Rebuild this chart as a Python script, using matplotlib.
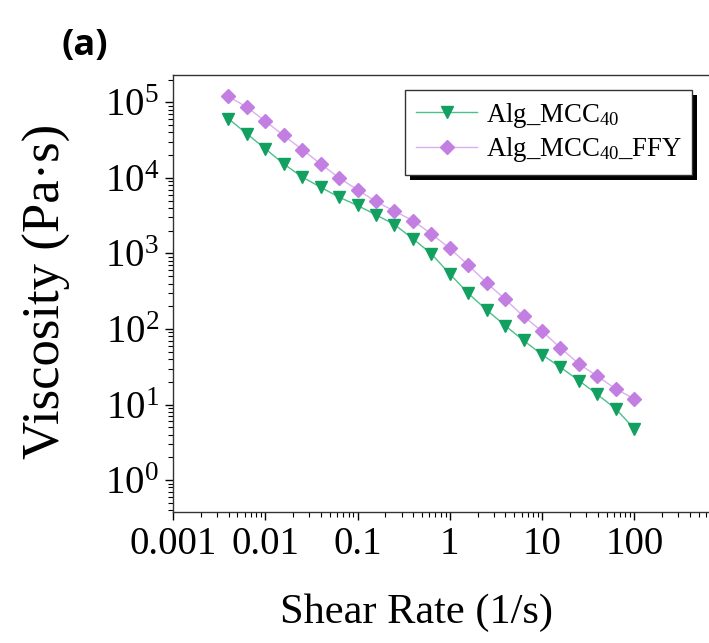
import matplotlib
matplotlib.use("Agg")
import matplotlib.pyplot as plt
from matplotlib.patches import Rectangle
from matplotlib.ticker import LogLocator, NullFormatter, FixedLocator, FixedFormatter

plt.rcParams["font.family"] = ["Liberation Serif", "DejaVu Serif"]
plt.rcParams["mathtext.fontset"] = "custom"
plt.rcParams["mathtext.rm"] = "Liberation Serif"
plt.rcParams["mathtext.it"] = "Liberation Serif:italic"

# DATA
shear_rate = [0.00398, 0.00631, 0.01, 0.0158, 0.0251, 0.0398, 0.0631, 0.1, 0.158,
              0.251, 0.398, 0.631, 1.0, 1.58, 2.51, 3.98, 6.31, 10.0, 15.8, 25.1,
              39.8, 63.1, 100.0]
visc_mcc40 = [6.1e4, 3.85e4, 2.44e4, 1.54e4, 1.03e4, 7.55e3, 5.57e3, 4.32e3, 3.26e3,
              2.42e3, 1.57e3, 991, 538, 298, 179, 111, 70.5, 45.9, 31.2, 20.8,
              13.6, 8.77, 4.77]
visc_mcc40_ffy = [1.2e5, 8.67e4, 5.65e4, 3.66e4, 2.38e4, 1.54e4, 1.0e4, 6.98e3, 4.89e3,
                  3.63e3, 2.73e3, 1.82e3, 1.17e3, 708, 409, 248, 147, 93.5, 56.4, 34.6,
                  23.7, 16.1, 11.9]
x_ticks = [0.001, 0.01, 0.1, 1, 10, 100]
x_tick_labels = ["0.001", "0.01", "0.1", "1", "10", "100"]

fig = plt.figure(figsize=(7.09, 6.43), dpi=100)
ax = fig.add_axes([0.244, 0.204, 0.756, 0.679])

ax.plot(shear_rate, visc_mcc40, color="#4cc08c", lw=1.0, marker="v", ms=8.5,
        mfc="#12a060", mec="#12a060", label="Alg_MCC$_{40}$", zorder=3)
ax.plot(shear_rate, visc_mcc40_ffy, color="#dcaef0", lw=1.0, marker="D", ms=7,
        mfc="#c27ee0", mec="#c27ee0", label="Alg_MCC$_{40}$_FFY", zorder=3)

ax.set_xscale("log")
ax.set_yscale("log")
ax.set_xlim(1e-3, 10 ** 2.81)
ax.set_ylim(10 ** -0.42, 10 ** 5.36)

ax.xaxis.set_major_locator(FixedLocator(x_ticks))
ax.xaxis.set_major_formatter(FixedFormatter(x_tick_labels))
ax.xaxis.set_minor_locator(LogLocator(base=10, subs=range(2, 10), numticks=20))
ax.xaxis.set_minor_formatter(NullFormatter())
ax.yaxis.set_major_locator(LogLocator(base=10, numticks=20))
ax.yaxis.set_minor_locator(LogLocator(base=10, subs=range(2, 10), numticks=20))
ax.yaxis.set_minor_formatter(NullFormatter())

ax.tick_params(which="major", direction="out", length=6, width=1, labelsize=28, pad=4)
ax.tick_params(which="minor", direction="out", length=3.5, width=0.8)
ax.spines["right"].set_visible(False)
for s in ["left", "bottom", "top"]:
    ax.spines[s].set_linewidth(1.0)
    ax.spines[s].set_color("#333333")

ax.set_xlabel("Shear Rate (1/s)", fontsize=30.5, va="center")
ax.xaxis.set_label_coords(0.455, -0.232)
ax.set_ylabel("Viscosity (Pa·s)", fontsize=38, va="center")
ax.yaxis.set_label_coords(-0.236, 0.505)

leg = ax.legend(loc="upper left", bbox_to_anchor=(0.433, 0.966), fontsize=19.3,
                frameon=True, fancybox=False, edgecolor="#333333", framealpha=1,
                handlelength=2.3, borderpad=0.4, labelspacing=0.2, handletextpad=0.3,
                borderaxespad=0)
leg.get_frame().set_linewidth(1.0)

# black drop shadow behind the legend
fig.canvas.draw()
bb = leg.get_window_extent().transformed(ax.transAxes.inverted())
dx = 5 / (ax.bbox.width)
dy = 5 / (ax.bbox.height)
ax.add_patch(Rectangle((bb.x0 + dx, bb.y0 - dy), bb.width, bb.height, transform=ax.transAxes,
                       facecolor="black", edgecolor="none", zorder=4.9, clip_on=False))

fig.text(0.087, 0.915, "(a)", fontsize=26, fontweight="bold", family=["Open Sans", "DejaVu Sans"])

fig.savefig("out.png", dpi=100)
